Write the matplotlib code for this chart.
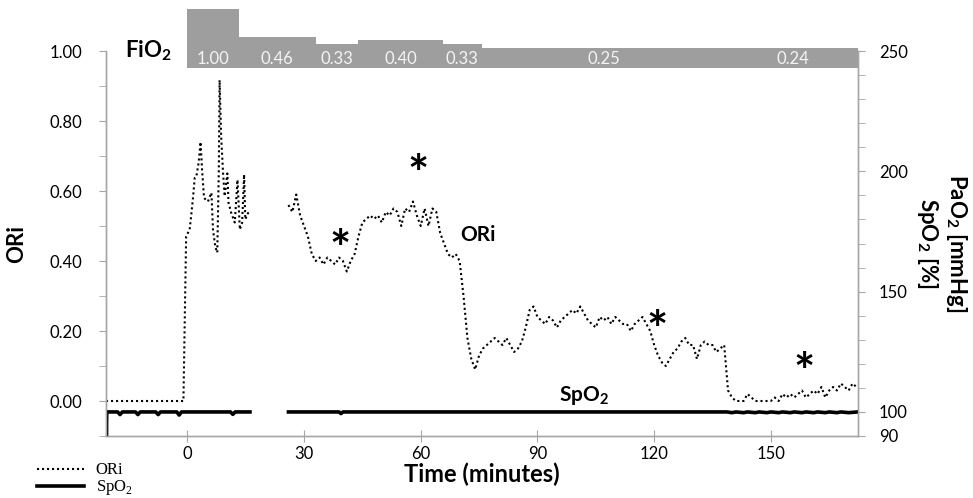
import matplotlib
matplotlib.use('Agg')
import matplotlib.pyplot as plt
import matplotlib.ticker as mticker
import numpy as np

plt.rcParams['font.family'] = ['Lato', 'DejaVu Sans']
plt.rcParams['mathtext.fontset'] = 'custom'
plt.rcParams['mathtext.rm'] = 'Liberation Serif'
plt.rcParams['mathtext.bf'] = 'Lato:bold'

# ORi, first run (minutes)
ori_t1 = [-20.9, -1.0, -0.3, 0.6, 1.0, 1.5, 1.9, 2.3, 2.9, 3.4, 3.8, 4.3, 5.3, 6.2, 6.6,
          7.2, 7.7, 8.1, 8.3, 8.7, 9.2, 9.6, 10.3, 10.6, 11.3, 12.2, 12.9, 13.5, 14.1,
          14.6, 14.9, 15.6, 16.0]
ori_v1 = [0.00, 0.00, 0.47, 0.49, 0.53, 0.585, 0.637, 0.64, 0.68, 0.74, 0.66, 0.58, 0.57,
          0.595, 0.49, 0.44, 0.424, 0.66, 0.917, 0.756, 0.65, 0.585, 0.65, 0.566, 0.537,
          0.51, 0.632, 0.49, 0.51, 0.647, 0.519, 0.537, 0.53]

# ORi, second run, one value per minute from 26 to 172
ori_t2 = np.arange(26, 173)
ori_v2 = [0.56, 0.54, 0.59, 0.53, 0.50, 0.47, 0.42, 0.40, 0.41, 0.39,
          0.41, 0.40, 0.39, 0.41, 0.40, 0.37, 0.40, 0.42, 0.47, 0.51,
          0.52, 0.53, 0.52, 0.53, 0.51, 0.54, 0.53, 0.55, 0.54, 0.50,
          0.55, 0.54, 0.57, 0.53, 0.50, 0.55, 0.50, 0.55, 0.54, 0.48,
          0.45, 0.42, 0.41, 0.42, 0.40, 0.30, 0.18, 0.12, 0.09, 0.13,
          0.15, 0.16, 0.17, 0.18, 0.17, 0.16, 0.18, 0.16, 0.14, 0.15,
          0.17, 0.21, 0.26, 0.27, 0.24, 0.23, 0.22, 0.24, 0.23, 0.21,
          0.23, 0.24, 0.25, 0.26, 0.25, 0.27, 0.25, 0.23, 0.22, 0.21,
          0.24, 0.23, 0.24, 0.22, 0.24, 0.23, 0.22, 0.22, 0.20, 0.22,
          0.23, 0.24, 0.22, 0.20, 0.16, 0.13, 0.11, 0.10, 0.12, 0.14,
          0.15, 0.17, 0.18, 0.16, 0.16, 0.12, 0.16, 0.17, 0.16, 0.16,
          0.14, 0.15, 0.16, 0.03, 0.01, 0.00, 0.00, 0.00, 0.02, 0.01,
          0.00, 0.00, 0.00, 0.00, 0.00, 0.01, 0.00, 0.02, 0.01, 0.02,
          0.01, 0.02, 0.03, 0.01, 0.02, 0.03, 0.02, 0.04, 0.01, 0.03,
          0.04, 0.03, 0.05, 0.04, 0.03, 0.05, 0.04]

# SpO2 [%]
spo2_t1 = [-20.9, -20.8, -20.7, -17.9, -17.3, -16.7, -13.3, -12.7, -12.1, -8.1, -7.5, -6.9,
           -2.7, -2.1, -1.5, 11.1, 11.7, 12.3, 16.1]
spo2_v1 = [100, 90, 100, 100, 98.9, 100, 100, 98.9, 100, 100, 98.9, 100,
           100, 98.7, 100, 100, 99.0, 100, 100]
spo2_t2 = [26.0, 39.0, 39.5, 40.0, 138.7, 140, 141, 143, 144, 146, 147, 149, 150, 152,
           153, 155, 156, 158, 159, 161, 162, 164, 165, 167, 168, 170, 172.3]
spo2_v2 = [100, 100, 99.3, 100, 100, 99.7, 100, 99.7, 100, 99.7, 100, 99.7, 100, 99.7,
           100, 99.7, 100, 99.7, 100, 99.7, 100, 99.7, 100, 99.7, 100, 99.7, 100]

# FiO2 settings
fio2_start = [0, 13.3, 33.0, 44.0, 65.7, 75.7, 138.7]
fio2_end = [13.3, 33.0, 44.0, 65.7, 75.7, 138.7, 172.4]
fio2 = [1.00, 0.46, 0.33, 0.40, 0.33, 0.25, 0.24]

# asterisks (minutes, ORi)
star_t = [39.2, 59.4, 120.7, 158.5]
star_v = [0.47, 0.685, 0.239, 0.12]

GRAY = '#A6A6A6'
BAR_GRAY = '#9E9E9E'

W, H = 973, 498
fig = plt.figure(figsize=(W / 100, H / 100), dpi=100)
ax = fig.add_axes([106 / W, 1 - 436 / H, (858 - 106) / W, (436 - 51) / H])
ax2 = ax.twinx()

ori_x = np.concatenate([ori_t1, [np.nan], ori_t2])
ori_y = np.concatenate([ori_v1, [np.nan], ori_v2])
l_ori, = ax.plot(ori_x, ori_y, color='black', lw=1.5, linestyle=(0, (1, 1.4)), label='ORi')

spo2_x = np.concatenate([spo2_t1, [np.nan], spo2_t2])
spo2_y = np.concatenate([spo2_v1, [np.nan], spo2_v2])
l_spo2, = ax2.plot(spo2_x, spo2_y, color='black', lw=2.6, solid_joinstyle='round',
                   label='SpO$_\\mathrm{2}$')

ax.set_xlim(-20.9, 172.4)
ax.set_ylim(-0.1, 1.0)
ax2.set_ylim(90, 250)

ax.xaxis.set_major_locator(mticker.FixedLocator([0, 30, 60, 90, 120, 150]))
ax.yaxis.set_major_locator(mticker.FixedLocator([0, 0.2, 0.4, 0.6, 0.8, 1.0]))
ax.yaxis.set_minor_locator(mticker.FixedLocator([-0.1, 0.1, 0.3, 0.5, 0.7, 0.9]))
ax.yaxis.set_major_formatter(mticker.FormatStrFormatter('%.2f'))
ax2.yaxis.set_major_locator(mticker.FixedLocator([90, 100, 150, 200, 250]))
ax2.yaxis.set_minor_locator(mticker.MultipleLocator(10))

for a in (ax, ax2):
    for s in a.spines.values():
        s.set_color(GRAY)
        s.set_linewidth(1.0)
    a.spines['top'].set_visible(False)

ax.tick_params(axis='y', which='both', length=5, color=GRAY, labelsize=12, pad=12)
ax.tick_params(axis='x', which='both', direction='inout', length=9, color=GRAY,
               labelsize=12, pad=3)
ax2.tick_params(axis='y', which='both', length=5, color=GRAY, labelsize=12, pad=10)

ax.set_ylabel('ORi', fontsize=16, fontweight='bold', labelpad=16)
ax.set_xlabel('Time (minutes)', fontsize=17, fontweight='bold', labelpad=0)
ax2.set_ylabel('PaO$_\\mathbf{2}$ [mmHg]\nSpO$_\\mathbf{2}$ [%]', fontsize=16,
               fontweight='bold', rotation=270, labelpad=44, linespacing=1.2)

# in-plot annotations
ax.text(70.1, 0.457, 'ORi', fontsize=15, fontweight='bold', va='baseline', ha='left')
ax.text(95.5, 0.0, 'SpO$_\\mathbf{2}$', fontsize=15, fontweight='bold', va='baseline', ha='left')
for t, v in zip(star_t, star_v):
    ax.annotate('*', (t, v), xytext=(0, -11), textcoords='offset points', fontsize=36,
                fontweight='bold', ha='center', va='center')

# FiO2 step bar above the plot
axf = fig.add_axes([106 / W, 1 - 68 / H, (858 - 106) / W, 60 / H])
axf.set_xlim(ax.get_xlim())
axf.set_ylim(-0.14, 1.013)
axf.bar(fio2_start, np.array(fio2) + 0.14, width=np.array(fio2_end) - np.array(fio2_start),
        bottom=-0.14, align='edge', color=BAR_GRAY, linewidth=0)
for s, e, v in zip(fio2_start, fio2_end, fio2):
    axf.text((s + e) / 2, 0.04, f'{v:.2f}', ha='center', va='center', fontsize=12,
             color='#F4F4F4')
axf.axis('off')
fig.text(148 / W, 1 - 51 / H, 'FiO$_\\mathbf{2}$', fontsize=16, fontweight='bold',
         ha='center', va='center')

# legend in the lower left corner
leg = fig.legend(handles=[l_ori, l_spo2], loc='upper left',
                 bbox_to_anchor=(29 / W, 1 - 454 / H), frameon=False,
                 prop={'family': 'Liberation Serif', 'size': 12},
                 handlelength=2.8, handletextpad=0.7, labelspacing=0.0, borderpad=0)

fig.savefig('out.png', dpi=100)
